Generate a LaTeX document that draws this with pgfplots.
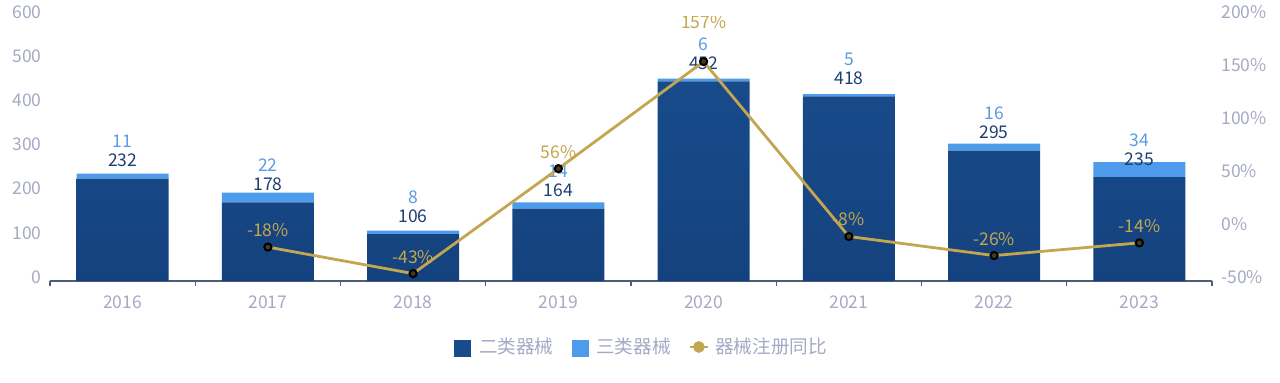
\documentclass[border=0pt]{standalone}
\usepackage{fontspec}
\setmainfont{Noto Sans CJK SC}
\usepackage{pgfplots}
\pgfplotsset{compat=1.18}
\usepackage{pgfplotstable}

\definecolor{darkbar}{HTML}{184B8B}
\definecolor{darkbarb}{HTML}{14427E}
\definecolor{lightbar}{HTML}{4E9BEB}
\definecolor{gold}{HTML}{C3A64F}
\definecolor{ticklab}{HTML}{A5A9C4}
\definecolor{axisline}{HTML}{4F5B7A}
\definecolor{darklab}{HTML}{1E3F72}
\definecolor{lightlab}{HTML}{5A9BE2}

\pgfplotstableread{
x dark light total yoy ys
0 232 11 243 nan 0
1 178 22 200 -18 0
2 106 8 114 -43 0
3 164 14 178 56 0
4 452 6 458 157 11.25
5 418 5 423 -8 0
6 295 16 311 -26 0
7 235 34 269 -14 0
}\data

\newcommand{\fs}{\fontsize{8.75}{10}\selectfont}
\newcommand{\lfs}{\fontsize{9.3}{10}\selectfont}

\pgfplotsset{
  base/.style={
    at={(0,0)}, anchor=south west,
    scale only axis, width=581pt, height=132.5pt,
    xmin=-0.5, xmax=7.5,
  },
}

\begin{document}
\begin{tikzpicture}
\path[use as bounding box, clip] (-25pt,-50.5pt) rectangle (615pt,140.5pt);

% bars
\begin{axis}[base,
  ymin=0, ymax=600,
  ybar stacked, bar width=46pt,
  axis x line*=bottom, axis y line*=left,
  y axis line style={draw=none},
  x axis line style={draw=axisline, line width=0.7pt},
  xtick={0,...,7},
  xticklabels={2016,2017,2018,2019,2020,2021,2022,2023},
  minor xtick={-0.5,0.5,...,7.5},
  major tick length=0pt, minor tick length=2.5pt,
  tick align=outside,
  minor tick style={draw=axisline, line width=0.6pt},
  ytick={0,100,...,600},
  yticklabels={0,100,200,300,400,500,600},
  ytick style={draw=none},
  xticklabel style={font=\fs, text=ticklab, anchor=base, yshift=-13.6pt, inner sep=0pt},
  yticklabel style={font=\fs, text=ticklab, anchor=base east, yshift=-1.15pt, xshift=-4pt, inner sep=0pt},
]
\addplot[draw=none, top color=darkbar, bottom color=darkbarb] table[x=x, y=dark]{\data};
\addplot[draw=none, fill=lightbar] table[x=x, y=light]{\data};
\end{axis}

% bar labels
\begin{axis}[base, hide axis, ymin=0, ymax=600, clip=false]
\addplot[draw=none, mark=none, nodes near coords, point meta=explicit symbolic,
  every node near coord/.append style={font=\fs, text=darklab, anchor=base, inner sep=0pt, yshift=6pt}]
  table[x=x, y=dark, meta=dark]{\data};
\addplot[draw=none, mark=none, nodes near coords, point meta=explicit symbolic,
  every node near coord/.append style={font=\fs, text=lightlab, anchor=base, inner sep=0pt, yshift=15.5pt}]
  table[x=x, y=dark, meta=light]{\data};
\end{axis}

% line labels, clipped at the plot area
\begin{scope}
\clip (-25pt,-50.5pt) rectangle (615pt,132.5pt);
\begin{axis}[base, hide axis, ymin=-50, ymax=200, clip=false]
\addplot[draw=none, mark=none, nodes near coords, point meta=explicit symbolic,
  visualization depends on={\thisrow{ys} \as \ys},
  nodes near coords={\pgfplotspointmeta\%},
  every node near coord/.append style={font=\fs, text=gold, anchor=base, inner sep=0pt, yshift=5.25pt+\ys pt}]
  table[x=x, y=yoy, meta=yoy]{\data};
\end{axis}
\end{scope}

% line
\begin{axis}[base,
  ymin=-50, ymax=200,
  axis x line=none, axis y line*=right,
  y axis line style={draw=none},
  ytick={-50,0,50,100,150,200},
  yticklabels={-50\%,0\%,50\%,100\%,150\%,200\%},
  ytick style={draw=none},
  yticklabel style={font=\fs, text=ticklab, anchor=base west, yshift=-1.15pt, xshift=4.5pt, inner sep=0pt},
  legend style={at={(0.5100,-0.249)}, anchor=center, draw=none, fill=none,
    font=\lfs, text=ticklab, legend columns=3,
    /tikz/every even column/.append style={column sep=7pt},
    row sep=0pt, inner sep=0pt},
  legend cell align=left,
]
\addlegendimage{legend image code/.code={\fill[darkbar] (0pt,-4.5pt) rectangle (8pt,3.5pt); \path (10pt,0pt);}}
\addlegendentry{二类器械}
\addlegendimage{legend image code/.code={\fill[lightbar] (0pt,-4.5pt) rectangle (8pt,3.5pt); \path (10pt,0pt);}}
\addlegendentry{三类器械}
\addplot[draw=gold, line width=1.4pt, mark=*, mark size=1.8pt,
  mark options={draw=black, fill=gold!35!black, line width=1pt},
  legend image code/.code={
    \draw[gold, line width=1.2pt] (0pt,0pt)--(2.5pt,0pt);
    \draw[gold, line width=1.2pt] (6.5pt,0pt)--(9pt,0pt);
    \fill[gold] (4.5pt,0pt) circle (2.2pt);
    \path (10pt,0pt);}]
  table[x=x, y=yoy]{\data};
\addlegendentry{器械注册同比}
\end{axis}
\end{tikzpicture}
\end{document}
